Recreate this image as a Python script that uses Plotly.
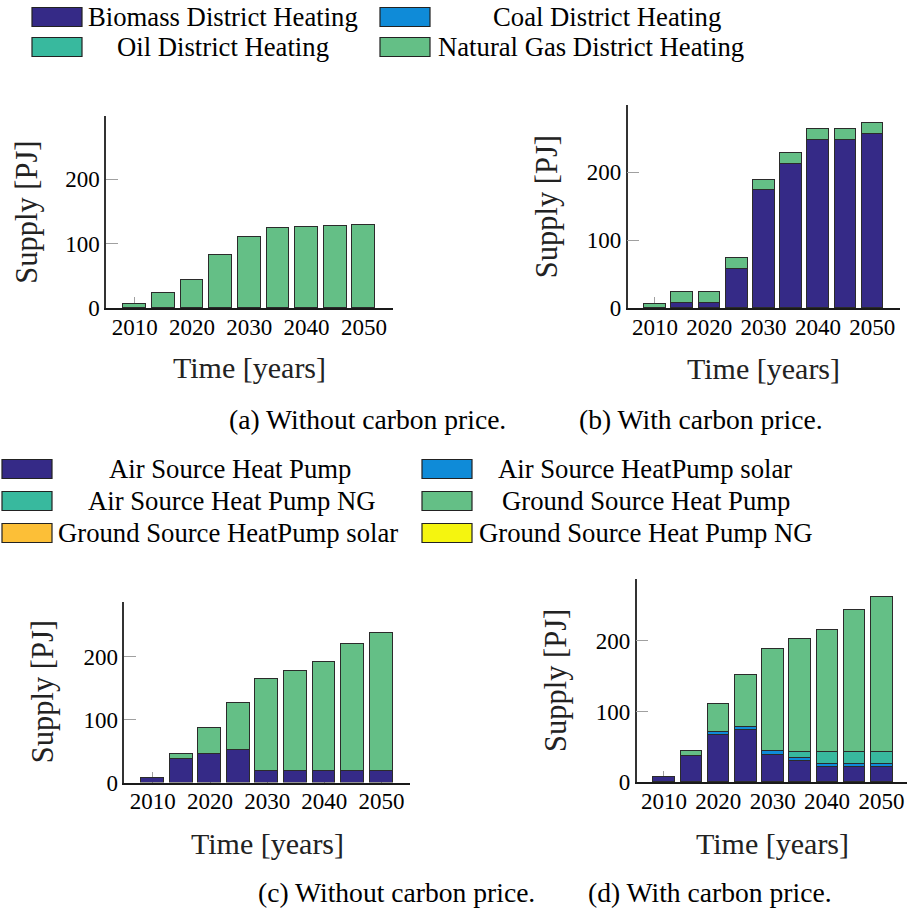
import plotly.graph_objects as go

W, H = 907, 909
H_EFF = 896  # vertical extent the page actually gives the paper

years = [2010, 2015, 2020, 2025, 2030, 2035, 2040, 2045, 2050]
tick_vals = [2010, 2020, 2030, 2040, 2050]
tick_text = ["2010", "2020", "2030", "2040", "2050"]
y_tick_vals = [0, 100, 200]
y_tick_text = ["0", "100", "200"]

# District heating series (PJ)
dh_names = ["Biomass District Heating", "Coal District Heating",
            "Oil District Heating", "Natural Gas District Heating"]
dh_colors = ["#352a87", "#0f8bd8", "#38b99e", "#64bf86"]
# (a) without carbon price
a_biomass = [0, 0, 0, 0, 0, 0, 0, 0, 0]
a_coal = [0, 0, 0, 0, 0, 0, 0, 0, 0]
a_oil = [0, 0, 0, 0, 0, 0, 0, 0, 0]
a_ng = [6, 23, 43, 83, 110, 124, 125.5, 127.5, 129]
# (b) with carbon price
b_biomass = [0, 7.3, 8.2, 57.5, 173, 212, 247.5, 247.5, 256]
b_coal = [0, 0, 0, 0, 0, 0, 0, 0, 0]
b_oil = [0, 0, 0, 0, 0, 0, 0, 0, 0]
b_ng = [6, 16, 15.7, 16, 15.2, 16.3, 16, 16, 15.2]

# Heat pump series (PJ)
hp_names = ["Air Source Heat Pump", "Air Source HeatPump solar",
            "Air Source Heat Pump NG", "Ground Source Heat Pump",
            "Ground Source HeatPump solar", "Ground Source Heat Pump NG"]
hp_colors = ["#352a87", "#0f8bd8", "#38b99e", "#64bf86", "#fcbf37", "#f5f50f"]
# (c) without carbon price
c_ashp = [7.5, 37.3, 46.3, 53, 18.3, 18.3, 18.3, 18.3, 18.3]
c_ashp_solar = [0, 0, 0, 0, 0, 0, 0, 0, 0]
c_ashp_ng = [0, 0, 0, 0, 0, 0, 0, 0, 0]
c_gshp = [0, 7.9, 41.5, 73.8, 146.4, 159.6, 173.8, 202.7, 220.1]
c_gshp_solar = [0, 0, 0, 0, 0, 0, 0, 0, 0]
c_gshp_ng = [0, 0, 0, 0, 0, 0, 0, 0, 0]
# (d) with carbon price
d_ashp = [7, 37.1, 66.4, 73.4, 39, 30.4, 22.3, 22.3, 22.3]
d_ashp_solar = [0, 0, 4.2, 4.3, 4.7, 3.8, 3.8, 3.8, 3.8]
d_ashp_ng = [0, 0, 0, 0, 0, 9.3, 17.4, 16.4, 17.4]
d_gshp = [0, 7.5, 40.4, 73.4, 144.2, 158.9, 172.5, 201.8, 217.8]
d_gshp_solar = [0, 0, 0, 0, 0, 0, 0, 0, 0]
d_gshp_ng = [0, 0, 0, 0, 0, 0, 0, 0, 0]

captions = ["(a) Without carbon price.", "(b) With carbon price.",
            "(c) Without carbon price.", "(d) With carbon price."]
x_title = "Time [years]"
y_title = "Supply [PJ]"

FONT = "Liberation Serif"
EDGE = "#2b2b2b"


def px_x(p):
    return p / W


def px_y(p):
    return 1 - p / H_EFF


fig = go.Figure()

panels = [
    dict(ax="", series=[a_biomass, a_coal, a_oil, a_ng], colors=dh_colors, names=dh_names),
    dict(ax="2", series=[b_biomass, b_coal, b_oil, b_ng], colors=dh_colors, names=dh_names),
    dict(ax="3", series=[c_ashp, c_ashp_solar, c_ashp_ng, c_gshp, c_gshp_solar, c_gshp_ng],
         colors=hp_colors, names=hp_names),
    dict(ax="4", series=[d_ashp, d_ashp_solar, d_ashp_ng, d_gshp, d_gshp_solar, d_gshp_ng],
         colors=hp_colors, names=hp_names),
]

for p in panels:
    for s, col, nm in zip(p["series"], p["colors"], p["names"]):
        fig.add_trace(go.Bar(
            x=years, y=s, width=4.0, name=nm,
            marker=dict(color=col, line=dict(color=EDGE, width=1.2)),
            xaxis="x" + p["ax"], yaxis="y" + p["ax"], showlegend=False,
        ))


def totals(series):
    return [sum(v) for v in zip(*series)]


ymax_top = 1.1 * max(totals(panels[0]["series"]) + totals(panels[1]["series"]))
ymax_bot = 1.1 * max(totals(panels[2]["series"]) + totals(panels[3]["series"]))

# pixel geometry of each panel: (left, right, top, bottom)
geo = {
    "": (106, 392.6, 116, 308),
    "2": (627.7, 899.5, 105, 308.3),
    "3": (124.3, 410, 601.7, 782.6),
    "4": (636.7, 907, 579, 782.3),
}
xmax = {"": 2055, "2": 2055, "3": 2055, "4": 2005 + (907 - 636.7) / 5.44}
ymaxes = {"": ymax_top, "2": ymax_top, "3": ymax_bot, "4": ymax_bot}

layout = dict(
    width=W, height=H, margin=dict(l=0, r=0, t=0, b=0),
    paper_bgcolor="white", plot_bgcolor="white",
    barmode="stack", bargap=0,
    font=dict(family=FONT, color="black"),
)

for ax, (l, r, t, b) in geo.items():
    layout["xaxis" + ax] = dict(
        domain=[px_x(l), px_x(r)], anchor="y" + ax, range=[2005, xmax[ax]],
        tickmode="array", tickvals=tick_vals, ticktext=tick_text,
        ticks="inside", ticklen=11, tickcolor="#a0a0a0", tickwidth=1,
        showline=True, linecolor="#1a1a1a", linewidth=2,
        showgrid=False, zeroline=False, layer="below traces",
        tickfont=dict(size=23, family=FONT, color="black"),
        ticklabelstandoff=-3,
        fixedrange=True,
    )
    layout["yaxis" + ax] = dict(
        domain=[px_y(b), px_y(t)], anchor="x" + ax, range=[0, ymaxes[ax]],
        tickmode="array", tickvals=y_tick_vals, ticktext=y_tick_text,
        ticks="inside", ticklen=12, tickcolor="#a0a0a0", tickwidth=1,
        showline=True, linecolor="#333333", linewidth=1.5,
        showgrid=False, zeroline=False, layer="below traces",
        tickfont=dict(size=23, family=FONT, color="black"),
        fixedrange=True,
    )

annotations = []
shapes = []

# axis titles
xt_pos = {"": (249.3, 367), "2": (763, 368), "3": (267, 843), "4": (772.5, 843)}
yt_pos = {"": (26.7, 212), "2": (546.7, 206.6), "3": (43.3, 692), "4": (555.3, 680.7)}
for ax in geo:
    x, y = xt_pos[ax]
    annotations.append(dict(text=x_title, x=px_x(x), y=px_y(y), xref="paper", yref="paper",
                            showarrow=False, xanchor="center", yanchor="middle",
                            font=dict(size=30, family=FONT, color="#222")))
    x, y = yt_pos[ax]
    annotations.append(dict(text=y_title, x=px_x(x), y=px_y(y), xref="paper", yref="paper",
                            showarrow=False, xanchor="center", yanchor="middle", textangle=-90,
                            font=dict(size=30.5, family=FONT, color="#222")))

# captions
cap_pos = [(367, 419), (701, 419), (396, 892), (709.5, 892)]
for txt, (x, y) in zip(captions, cap_pos):
    annotations.append(dict(text=txt, x=px_x(x), y=px_y(y), xref="paper", yref="paper",
                            showarrow=False, xanchor="center", yanchor="middle",
                            font=dict(size=27.6, family=FONT, color="black")))


# custom legends
def legend_entry(name, color, sx, sy, text_cx):
    shapes.append(dict(type="rect", xref="paper", yref="paper",
                       x0=px_x(sx), x1=px_x(sx + 50), y0=px_y(sy + 9.5), y1=px_y(sy - 9.5),
                       fillcolor=color, line=dict(color="#222", width=1.2)))
    annotations.append(dict(text=name, x=px_x(text_cx), y=px_y(sy), xref="paper", yref="paper",
                            showarrow=False, xanchor="center", yanchor="middle",
                            font=dict(size=26.7, family=FONT, color="black")))


# legend 1: 2 columns x 2 rows -> (swatch left, row y, text centre)
l1_place = [(32, 17, 222.5), (380, 17, 606.5), (32, 47, 223), (380, 47, 591)]
for nm, c, (sx, sy, tcx) in zip(dh_names, dh_colors, l1_place):
    legend_entry(nm, c, sx, sy, tcx)

# legend 2: 2 columns x 3 rows
l2_place = [(2, 469, 229.5), (422, 469, 645), (2, 501, 232),
            (422, 501, 645.5), (2, 533, 228), (422, 533, 645.5)]
for nm, c, (sx, sy, tcx) in zip(hp_names, hp_colors, l2_place):
    legend_entry(nm, c, sx, sy, tcx)

layout["annotations"] = annotations
layout["shapes"] = shapes
fig.update_layout(**layout)

fig.write_html("out.html")
